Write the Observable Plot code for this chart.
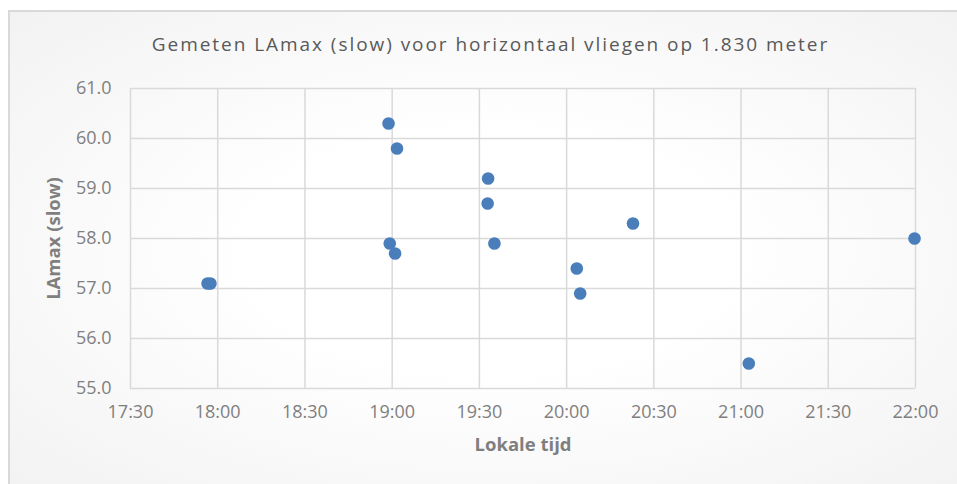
<!DOCTYPE html>
<html>
<head>
<meta charset="utf-8">
<script src="https://cdn.jsdelivr.net/npm/d3@7"></script>
<script src="https://cdn.jsdelivr.net/npm/@observablehq/plot@0.6"></script>
<style>
  html, body { margin: 0; padding: 0; background: #ffffff; }
  #wrap {
    position: relative; width: 957px; height: 484px; overflow: hidden;
    background: #ffffff;
  }
  #panel {
    position: absolute; left: 8px; top: 10px; width: 960px; height: 480px;
    border-left: 2px solid #d9d9d9; border-top: 2px solid #d9d9d9;
    background: radial-gradient(ellipse at 50% 50%, #ffffff 0%, #ffffff 35%, #f2f2f2 100%);
  }
  #title {
    position: absolute; left: 12px; width: 957px; top: 30px; text-align: center;
    font-family: "Open Sans", sans-serif; font-size: 19px; letter-spacing: 1.95px;
    color: #595959; line-height: 28px;
  }
  #chart { position: absolute; left: 0; top: 0; }
</style>
</head>
<body>
<div id="wrap">
  <div id="panel"></div>
  <div id="title">Gemeten LAmax (slow) voor horizontaal vliegen op 1.830 meter</div>
  <div id="chart"></div>
</div>
<script>
const chartTitle = "Gemeten LAmax (slow) voor horizontaal vliegen op 1.830 meter";
const xTitle = "Lokale tijd";
const yTitle = "LAmax (slow)";
const times = ["17:56:30","17:57:30","18:58:45","19:01:40","18:59:10","19:01:00","19:33:00","19:32:50","19:35:10","20:03:30","20:04:40","20:22:50","21:02:40","21:59:40"];
const levels = [57.1, 57.1, 60.3, 59.8, 57.9, 57.7, 59.2, 58.7, 57.9, 57.4, 56.9, 58.3, 55.5, 58.0];
const xTickLabels = ["17:30","18:00","18:30","19:00","19:30","20:00","20:30","21:00","21:30","22:00"];
const yTickValues = [55, 56, 57, 58, 59, 60, 61];

const parseT = d3.utcParse("%Y-%m-%d %H:%M:%S");
const toDate = s => parseT("2000-01-01 " + (s.length === 5 ? s + ":00" : s));
const data = times.map((t, i) => ({t: toDate(t), v: levels[i]}));
const xTicks = xTickLabels.map(toDate);

const gray = "#7f7f7f";
const grid = "#d9d9d9";

const plot = Plot.plot({
  width: 957,
  height: 484,
  marginLeft: 130,
  marginRight: 42,
  marginTop: 88,
  marginBottom: 96,
  style: {background: "transparent", fontFamily: "'Open Sans', sans-serif", fontSize: "18px", color: gray, overflow: "visible"},
  x: {type: "utc", domain: [xTicks[0], xTicks[xTicks.length - 1]]},
  y: {domain: [55, 61]},
  marks: [
    Plot.gridX(xTicks, {stroke: grid, strokeOpacity: 1, strokeWidth: 1.5}),
    Plot.gridY(yTickValues, {stroke: grid, strokeOpacity: 1, strokeWidth: 1.5}),
    Plot.axisX(xTicks, {tickSize: 0, tickPadding: 17, tickFormat: d3.utcFormat("%H:%M"), fill: gray,
      label: xTitle, labelAnchor: "center", labelArrow: "none", labelOffset: 62}),
    Plot.axisY(yTickValues, {tickSize: 0, tickPadding: 19, tickFormat: d3.format(".1f"), fill: gray,
      label: yTitle, labelAnchor: "center", labelArrow: "none", labelOffset: 84}),
    Plot.dot(data, {x: "t", y: "v", r: 6.3, fill: "#4a7ebb", stroke: "none"})
  ]
});
plot.querySelectorAll("[aria-label='x-axis label'] text, [aria-label='y-axis label'] text").forEach(t => {
  t.style.fontWeight = "bold";
  t.style.fontSize = "18.5px";
});
plot.querySelectorAll("[aria-label='x-axis tick label'] text, [aria-label='y-axis tick label'] text").forEach(t => {
  t.style.fontWeight = "normal";
});
document.getElementById("chart").appendChild(plot);
</script>
</body>
</html>
